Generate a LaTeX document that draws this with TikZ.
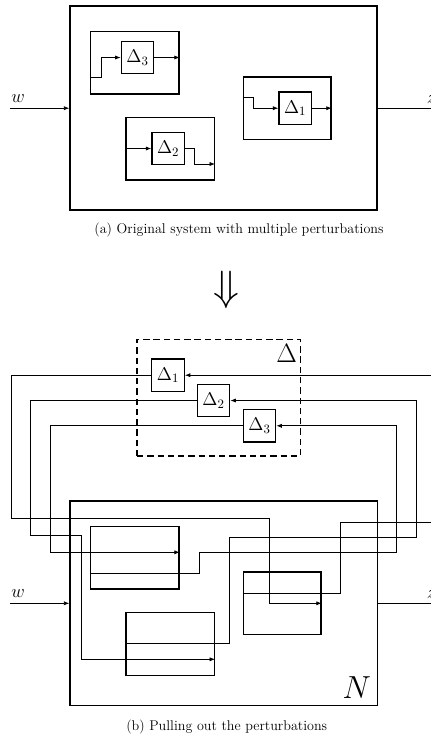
\documentclass[tikz,border=0pt]{standalone}
\usetikzlibrary{arrows.meta,fit}
\begin{document}
\begin{tikzpicture}[x=0.78pt,y=-0.78pt,
  blk/.style={draw,line width=1.1pt,inner sep=0pt},
  dbox/.style={draw,line width=1.1pt,inner sep=0pt,minimum size=25.3pt,font=\Large},
  wire/.style={line width=0.55pt},
  arr/.style={wire,-{Latex[length=4.2pt,width=3.2pt]}},
  lbl/.style={inner sep=0pt,font=\Large},
  captext/.style={inner sep=0pt,font=\fontsize{11}{13}\selectfont}]
\useasboundingbox (0,0) rectangle (430,738);

% ---------- (a) system with the perturbations inside ----------
\node[blk,fit={(70,6) (377,210)}] (sysA) {};
\node[blk,fit={(90.7,31.7) (179,94)}] (b3a) {};
\node[blk,fit={(126,117.3) (214.3,180)}] (b2a) {};
\node[blk,fit={(243.3,77) (331,139.3)}] (b1a) {};
\node[dbox] (d3a) at (137.5,57.5) {$\Delta_3$};
\node[dbox] (d2a) at (168.2,148.5) {$\Delta_2$};
\node[dbox] (d1a) at (295.2,108.2) {$\Delta_1$};

\draw[arr] (b3a.west |- 0,77.3) -- ++(11,0) |- (d3a.west);
\draw[arr] (d3a.east) -- (b3a.east |- d3a.east);
\draw[arr] (b2a.west |- d2a.west) -- (d2a.west);
\draw[arr] (d2a.east) -- ++(9,0) |- (b2a.east |- 0,164);
\draw[arr] (b1a.west |- 0,97.7) -- ++(10.7,0) |- (d1a.west);
\draw[arr] (d1a.east) -- (b1a.east |- d1a.east);

\coordinate (winA) at (10,108.2);
\coordinate (zoutA) at (440,108.2);
\draw[arr] (winA) -- (sysA.west |- winA);
\draw[wire] (sysA.east |- winA) -- (zoutA);
\node[lbl] (wA) at (18,99) {$w$};
\node[lbl] (zA) at (431.5,100) {$z$};

\node[captext] (capA) at (239,230) {(a) Original system with multiple perturbations};

\node[inner sep=0pt] (implies) at (226.7,290) {\scalebox{3.3}{$\Downarrow$}};

% ---------- (b) perturbations pulled out ----------
\node[draw,line width=1.2pt,dash pattern=on 5pt off 3pt,inner sep=0pt,fit={(137,339.3) (300.3,456)}] (Dblk) {};
\node[inner sep=0pt,font=\huge] (Dlbl) at (286.7,353) {$\Delta$};
\node[dbox] (d1) at (168,375.2) {$\Delta_1$};
\node[dbox] (d2) at (213.5,400.5) {$\Delta_2$};
\node[dbox] (d3) at (259.5,425.8) {$\Delta_3$};

\node[blk,fit={(70,501) (377.3,705.7)}] (N) {};
\node[inner sep=0pt,font=\Huge] (Nlbl) at (356.7,687.3) {$N$};
\node[blk,fit={(90.7,526.7) (179,589)}] (bb3) {};
\node[blk,fit={(126,612.7) (214.3,675.3)}] (bb2) {};
\node[blk,fit={(243.3,572) (321,634.7)}] (bb1) {};

% loop through Delta_1
\draw[arr] (bb1.west |- 0,593.3) -| (340.3,522.3) -| (436,375.2) -- (d1.east);
\draw[arr] (d1.west) -| (11,518.3) -| (269.3,603.3) -- (bb1.east |- 0,603.3);
% loop through Delta_2
\draw[arr] (bb2.west |- 0,643.3) -| (229,537.3) -| (416.7,400.5) -- (d2.east);
\draw[arr] (d2.west) -| (30.7,535) -| (81.7,659.3) -- (bb2.east |- 0,659.3);
% loop through Delta_3
\draw[arr] (bb3.west |- 0,573.3) -| (199,552.3) -| (396.7,425.8) -- (d3.east);
\draw[arr] (d3.west) -| (50.7,552.3) -- (bb3.east |- 0,552.3);

\coordinate (winB) at (10,603.3);
\coordinate (zoutB) at (440,603.3);
\draw[arr] (winB) -- (N.west |- winB);
\draw[wire] (N.east |- winB) -- (zoutB);
\node[lbl] (wB) at (18,594) {$w$};
\node[lbl] (zB) at (431.5,595) {$z$};

\node[captext] (capB) at (226.7,727.3) {(b) Pulling out the perturbations};
\end{tikzpicture}
\end{document}
